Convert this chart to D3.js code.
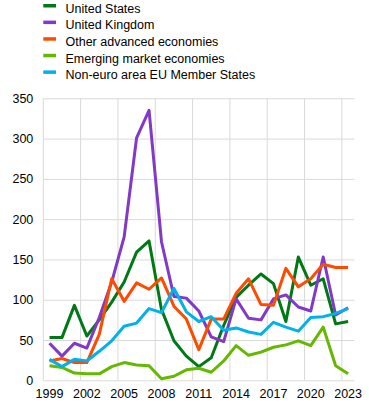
<!DOCTYPE html>
<html>
<head>
<meta charset="utf-8">
<script src="https://cdn.jsdelivr.net/npm/d3@7"></script>
<style>
  html, body { margin: 0; padding: 0; background: #fff; }
  svg { display: block; }
  text { font-family: "Liberation Sans", Arial, sans-serif; fill: #000; }
</style>
</head>
<body>
<div id="chart"></div>
<script>
const years = d3.range(1999, 2024);
const seriesNames = ["United States", "United Kingdom", "Other advanced economies", "Emerging market economies", "Non-euro area EU Member States"];
const seriesColors = ["#007816", "#8139C7", "#FF4B00", "#65B800", "#00B1EA"];
const unitedStates = [53, 53, 93, 55, 75, 97, 122, 159, 173, 88, 49, 30, 17, 28, 68, 103, 118, 132, 120, 73, 153, 118, 126, 70, 73];
const unitedKingdom = [46, 30, 46, 40, 78, 122, 178, 301, 335, 172, 104, 102, 86, 54, 48, 101, 77, 75, 101, 106, 91, 86, 153, 81, 90];
const otherAdvanced = [24, 27, 22, 22, 57, 126, 98, 121, 113, 127, 92, 76, 38, 76, 76, 108, 126, 94, 93, 139, 116, 126, 144, 140, 140];
const emerging = [18, 16, 9, 8, 8, 17, 22, 19, 18, 2, 5, 13, 15, 10, 24, 43, 31, 35, 41, 44, 49, 43, 66, 18, 8];
const nonEuroEU = [26, 17, 26, 24, 36, 49, 67, 71, 89, 84, 114, 85, 73, 79, 62, 65, 60, 57, 72, 66, 61, 78, 79, 83, 89];
const yTicks = [0, 50, 100, 150, 200, 250, 300, 350];
const xTickLabels = [1999, 2002, 2005, 2008, 2011, 2014, 2017, 2020, 2023];

const allSeries = [unitedStates, unitedKingdom, otherAdvanced, emerging, nonEuroEU];

const W = 369, H = 408;
const mLeft = 43.3, mRight = 354.3, mTop = 98.3, mBottom = 380.3;

const svg = d3.select("#chart").append("svg").attr("width", W).attr("height", H);

const x = d3.scaleBand().domain(years).range([mLeft, mRight]).paddingInner(0).paddingOuter(0);
const y = d3.scaleLinear().domain([0, 350]).range([mBottom, mTop]);
const cx = d => x(d) + x.bandwidth() / 2;

// horizontal gridlines + y labels
const yAxis = svg.append("g").attr("transform", `translate(${mLeft},0)`)
  .call(d3.axisLeft(y).tickValues(yTicks).tickSize(-(mRight - mLeft)).tickPadding(10).tickFormat(d3.format("d")));
yAxis.select(".domain").remove();
yAxis.selectAll("line").attr("stroke", "#d9d9d9").attr("stroke-width", 1);
yAxis.selectAll("text").style("font-size", "12.5px").style("font-family", "'Liberation Sans', Arial, sans-serif").attr("fill", "#000");

// vertical gridlines at band starts every 3 categories
svg.append("g").selectAll("line").data(xTickLabels).join("line")
  .attr("x1", d => x(d)).attr("x2", d => x(d))
  .attr("y1", mTop).attr("y2", mBottom)
  .attr("stroke", "#d9d9d9").attr("stroke-width", 1);

// x labels
const xAxis = svg.append("g").attr("transform", `translate(0,${mBottom})`)
  .call(d3.axisBottom(x).tickValues(xTickLabels).tickSize(0).tickPadding(8.5));
xAxis.select(".domain").remove();
xAxis.selectAll("text").style("font-size", "12.5px").style("font-family", "'Liberation Sans', Arial, sans-serif").attr("fill", "#000");

// lines
const line = d3.line().x((d, i) => cx(years[i])).y(d => y(d));
svg.append("g").selectAll("path").data(allSeries).join("path")
  .attr("d", d => line(d))
  .attr("fill", "none")
  .attr("stroke", (d, i) => seriesColors[i])
  .attr("stroke-width", 3)
  .attr("stroke-linejoin", "round");

// legend
const lg = svg.append("g");
seriesNames.forEach((name, i) => {
  lg.append("rect").attr("x", 43.3).attr("y", 4 + i * 16.6).attr("width", 12.7).attr("height", 3.5).attr("fill", seriesColors[i]);
  lg.append("text").attr("x", 65.5).attr("y", 12.8 + i * 16.6).style("font-size", "12.5px").text(name);
});
</script>
</body>
</html>
